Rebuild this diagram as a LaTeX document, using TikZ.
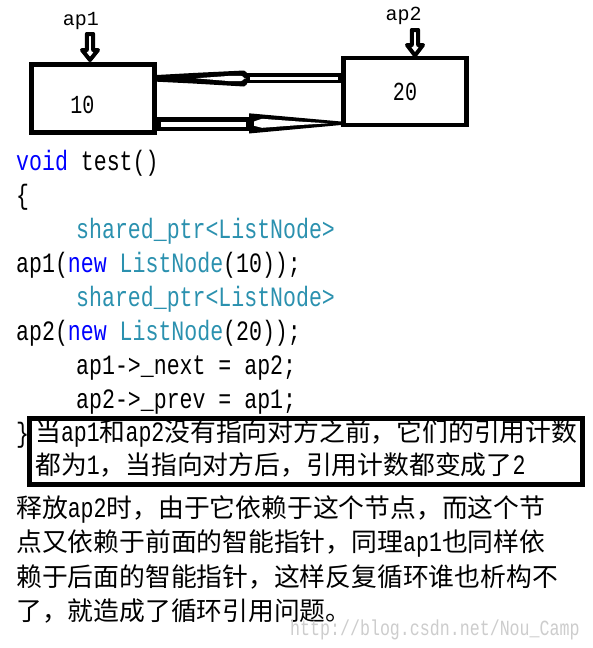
\documentclass[tikz,border=0pt]{standalone}
\usepackage{fontspec}
\setmainfont{Noto Sans CJK SC}
\newfontfamily\codefont[FakeStretch=0.77]{Liberation Mono}
\newfontfamily\labelfont{Liberation Mono}
\newcommand\lt[1]{{\codefont\fontsize{28}{28}\selectfont #1}}
\definecolor{kw}{RGB}{0,0,255}
\definecolor{ty}{RGB}{43,145,175}
\definecolor{wm}{RGB}{205,205,205}
\begin{document}
\begin{tikzpicture}[x=1pt,y=-1pt,
  code/.style={anchor=base west, inner sep=0, font=\codefont\fontsize{28}{28}\selectfont},
  cn/.style={anchor=base west, inner sep=0, font=\fontsize{25.8}{25.8}\selectfont},
  box/.style={draw, line width=4.6, inner sep=0},
  lbl/.style={inner sep=0, font=\labelfont\fontsize{20}{20}\selectfont},
  val/.style={inner sep=0, font=\codefont\fontsize{26}{26}\selectfont},
  hollow/.style={draw, fill=white, line width=4, line join=round}]
\useasboundingbox[fill=white] (0,0) rectangle (592,648);

% boxes
\node[box, minimum width=123, minimum height=68] (b1) at (93,98.3) {};
\node[box, minimum width=123, minimum height=67] (b2) at (404.8,91.3) {};
\node[val] (t1) at (82.5,104.5) {10};
\node[val] (t2) at (405,91.5) {20};

% labels and pointer arrows
\node[lbl] (l1) at (81,21) {ap1};
\node[lbl] (l2) at (403.5,16) {ap2};
\path[hollow] (86.8,34) -- (93.2,34) -- (93.2,50) -- (98,50) -- (90,60) -- (82,50) -- (86.8,50) -- cycle;
\path[hollow] (411.8,30) -- (418.2,30) -- (418.2,45) -- (423,45) -- (415,55.5) -- (407,45) -- (411.8,45) -- cycle;

% top connector (ap1 -> ap2)
\fill (b1.east |- 0,75) -- (193,73) -- (244,70.5) to[out=0,in=-90] (249.5,78.5) to[out=90,in=0] (244,86.5) -- (193,83.5) -- (b1.east |- 0,81.7) -- cycle;
\fill (247,73) rectangle (b2.west |- 0,83.3);
\fill[white] (196,78.3) -- (228,76) -- (241,75.8) to[out=0,in=-90] (245.5,78.3) to[out=90,in=0] (241,81) -- (228,81) -- cycle;
\fill[white] (250,76.8) rectangle (338,79.8);

% bottom connector (ap2 -> ap1)
\fill (b1.east |- 0,117.3) rectangle (251,130.7);
\fill[white] (161,121.7) rectangle (246,126.5);
\fill (249,113.3) -- (b2.west |- 0,121.5) -- (b2.west |- 0,125) -- (249,133.5) -- cycle;
\fill[white] (254,121.5) -- (262,118.8) -- (300,121.6) -- (328,123.3) -- (300,125) -- (262,127.8) -- (254,125.8) -- cycle;

% code
\node[code] (c1) at (16,170) {\textcolor{kw}{void} test()};
\node[code] (c2) at (16,204) {\{};
\node[code, text=ty] (c3) at (76,238) {shared\_ptr<ListNode>};
\node[code] (c4) at (16,272) {ap1(\textcolor{kw}{new} \textcolor{ty}{ListNode}(10));};
\node[code, text=ty] (c5) at (76,306) {shared\_ptr<ListNode>};
\node[code] (c6) at (16,340) {ap2(\textcolor{kw}{new} \textcolor{ty}{ListNode}(20));};
\node[code] (c7) at (76,374) {ap1->\_next = ap2;};
\node[code] (c8) at (76,408) {ap2->\_prev = ap1;};
\node[code] (c9) at (16,442) {\}};

% note box
\node[draw, line width=5, minimum width=553, minimum height=66, inner sep=0] (nb) at (306,451.5) {};
\node[cn] (n1) at (35,441) {当\lt{ap1}和\lt{ap2}没有指向对方之前，它们的引用计数};
\node[cn] (n2) at (35,474) {都为\lt{1}，当指向对方后，引用计数都变成了\lt{2}};

% paragraph
\node[cn] (p1) at (16,517) {释放\lt{ap2}时，由于它依赖于这个节点，而这个节};
\node[cn] (p2) at (16,551.5) {点又依赖于前面的智能指针，同理\lt{ap1}也同样依};
\node[cn] (p3) at (16,586) {赖于后面的智能指针，这样反复循环谁也析构不};
\node[cn] (p4) at (16,620) {了，就造成了循环引用问题。};

% watermark
\node[anchor=base west, inner sep=0, text=wm, font=\codefont\fontsize{21.6}{21.6}\selectfont] (wmk) at (290,635) {http://blog.csdn.net/Nou\_Camp};
\end{tikzpicture}
\end{document}
